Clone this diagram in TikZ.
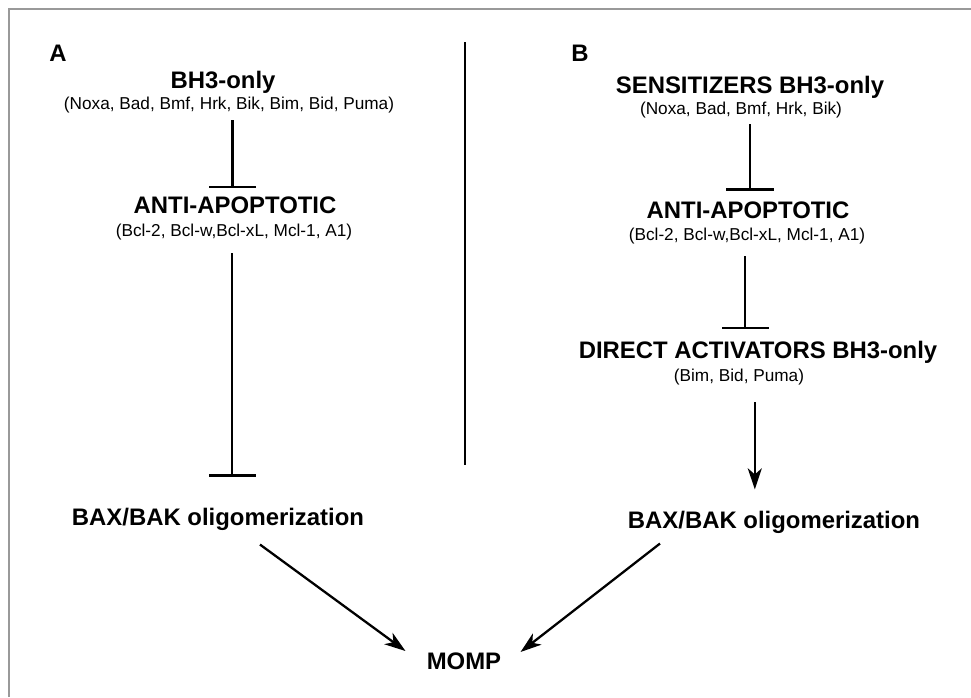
\documentclass[tikz,border=0pt]{standalone}
\usepackage{fontspec}
\setmainfont{Liberation Sans}
\usepackage{tikz}
\usetikzlibrary{arrows.meta}

\begin{document}
\begin{tikzpicture}[
        x=0.02cm, y=-0.02cm,
        title/.style={inner sep=0pt, font=\fontsize{13.6}{16}\selectfont\bfseries},
        sub/.style={inner sep=0pt, font=\fontsize{9.8}{12}\selectfont},
        inhibit/.style={-{Bar[width=27pt]}, line width=1.4pt},
        arrow/.style={-{Stealth[length=12pt,width=8pt,inset=3.5pt]}, line width=1.3pt}
    ]
        \useasboundingbox (0,0) rectangle (971,697);
        % Frame
        \draw[gray!80, line width=1.3pt] (9,697) -- (9,9) -- (971,9);
        \draw[line width=1pt] (465,42) -- (465,465);

        % Panel A
        \node[title] (labelA) at (58,53) {A};
        \node[title] (bhA) at (223,82) {BH3-only};
        \node[sub] (bhAsub) at (229,105) {(Noxa, Bad, Bmf, Hrk, Bik, Bim, Bid, Puma)};
        \node[title] (antiA) at (235,205) {ANTI-APOPTOTIC};
        \node[sub] (antiAsub) at (234,232) {(Bcl-2, Bcl-w,Bcl-xL, Mcl-1, A1)};
        \node[title] (baxA) at (218,519) {BAX/BAK oligomerization};

        % Panel B
        \node[title] (labelB) at (580,53) {B};
        \node[title] (sensB) at (750,87) {SENSITIZERS BH3-only};
        \node[sub] (sensBsub) at (741,110) {(Noxa, Bad, Bmf, Hrk, Bik)};
        \node[title] (antiB) at (748,210) {ANTI-APOPTOTIC};
        \node[sub] (antiBsub) at (747,236) {(Bcl-2, Bcl-w,Bcl-xL, Mcl-1, A1)};
        \node[title] (directB) at (758,352) {DIRECT ACTIVATORS BH3-only};
        \node[sub] (directBsub) at (739,377) {(Bim, Bid, Puma)};
        \node[title] (baxB) at (774,522) {BAX/BAK oligomerization};

        % Common end
        \node[title] (momp) at (464,661) {MOMP};

        % Connectors A
        \draw[inhibit, shorten <=4pt, shorten >=4.5pt] ([xshift=2]bhAsub.south) -- ([xshift=2]bhAsub.south |- antiA.north);
        \draw[inhibit, shorten <=7.4pt, shorten >=17.5pt] ([xshift=-1]antiAsub.south) -- ([xshift=-1]antiAsub.south |- baxA.north);
        \draw[arrow] ([shift={(42,14)}]baxA.south) -- ([shift={(-21,-10)}]momp.west);

        % Connectors B
        \draw[inhibit, shorten <=3.4pt, shorten >=6pt] ([xshift=5]sensBsub.south) -- ([xshift=5]sensBsub.south |- antiB.north);
        \draw[inhibit, shorten <=6.8pt, shorten >=6.5pt] ([xshift=-1]antiBsub.south) -- ([xshift=-1]antiBsub.south |- directB.north);
        \draw[arrow, shorten <=9.7pt, shorten >=12pt] ([xshift=9]directBsub.south) -- ([xshift=9]directBsub.south |- baxB.north);
        \draw[arrow] ([shift={(-114,10)}]baxB.south) -- ([shift={(19,-9)}]momp.east);
    \end{tikzpicture}
\end{document}
